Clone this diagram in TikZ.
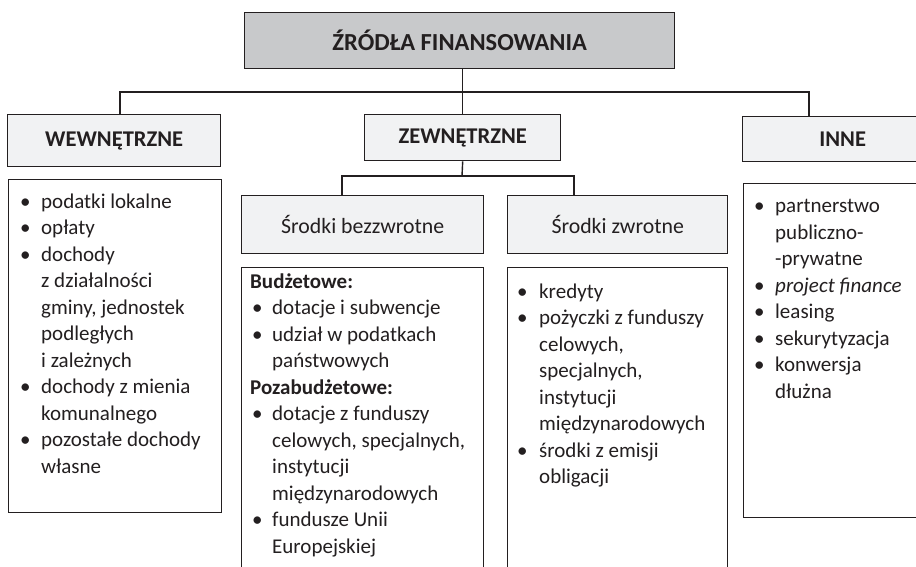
\documentclass[tikz,border=0pt]{standalone}
\usepackage{fontspec}
\setmainfont{Carlito}
\definecolor{ink}{HTML}{231F20}
\definecolor{darkfill}{HTML}{C8C9CB}
\definecolor{lightfill}{HTML}{F1F2F3}
\newlength\indw
\setlength\indw{22pt}
\newcommand\bl[2][1pt]{\makebox[\indw][l]{\hspace*{#1}\textbullet}#2}
\newcommand\cn[1]{\hspace*{\indw}#1}
\tikzset{
  box/.style={draw=ink, line width=1.4pt, inner sep=0pt, anchor=north west},
  hdr/.style={box, fill=lightfill, text=ink, font=\fontsize{22.5}{26}\selectfont\bfseries},
  subhdr/.style={box, fill=lightfill, text=ink, font=\fontsize{21.8}{25}\selectfont},
  listbox/.style={box, fill=white},
  listtext/.style={anchor=north west, inner sep=0pt, align=left, text=ink, font=\fontsize{21}{26.5}\selectfont},
  conn/.style={draw=ink, line width=1.4pt}
}
\begin{document}
\begin{tikzpicture}[x=1pt, y=-1pt]
\useasboundingbox (0,0) rectangle (916,566);
\clip (0,0) rectangle (916,566);
\fill[white] (0,0) rectangle (916,566);
% header boxes
\node[hdr, fill=darkfill, minimum width=430pt, minimum height=56pt, font=\fontsize{24.5}{28}\selectfont\bfseries] (root) at (244,12) {ŹRÓDŁA FINANSOWANIA};
\node[hdr, minimum width=213pt, minimum height=52pt] (wewn) at (7,114) {WEWNĘTRZNE};
\node[hdr, minimum width=196pt, minimum height=46pt] (zewn) at (364,114) {ZEWNĘTRZNE};
\node[hdr, minimum width=200pt, minimum height=45pt, text width=174pt, align=center, text depth=0pt] (inne) at (742,116) {INNE\hspace*{0pt}};
\node[subhdr, minimum width=242pt, minimum height=58pt] (bezz) at (241,195) {Środki bezzwrotne};
\node[subhdr, minimum width=220pt, minimum height=58pt] (zwr) at (507,195) {Środki zwrotne};
% content boxes
\node[listbox, minimum width=213pt, minimum height=333pt] (wewnc) at (8,179) {};
\node[listbox, minimum width=242pt, minimum height=340pt] (budz) at (241,267) {};
\node[listbox, minimum width=220pt, minimum height=340pt] (zwrc) at (507,267) {};
\node[listbox, minimum width=200pt, minimum height=334pt] (innec) at (743,183) {};
% connectors
\coordinate (bus) at (462,92);
\coordinate (sbus) at (462,176);
\coordinate (wtop) at ([xshift=113pt]wewn.north west);
\coordinate (itop) at ([xshift=67pt]inne.north west);
\coordinate (btop) at ([xshift=101pt]bezz.north west);
\coordinate (ztop) at ([xshift=67pt]zwr.north west);
\draw[conn] (root.south -| zewn.north) -- (zewn.north);
\draw[conn] (wtop) -- (wtop |- bus) -- (itop |- bus) -- (itop);
\draw[conn] (zewn.south) -- (sbus);
\draw[conn] (btop) -- (btop |- sbus) -- (ztop |- sbus) -- (ztop);
% lists
\node[listtext] (wewnt) at (19,189.5) {\strut\bl{podatki lokalne}\\ \bl{opłaty}\\ \bl{dochody}\\ \cn{z działalności}\\ \cn{gminy, jednostek}\\ \cn{podległych}\\ \cn{i zależnych}\\ \bl{dochody z mienia}\\ \cn{komunalnego}\\ \bl{pozostałe dochody}\\ \cn{własne}};
\node[listtext] (budzt) at (250,269.5) {\strut\textbf{Budżetowe:}\\ \bl[2pt]{dotacje i subwencje}\\ \bl[2pt]{udział w podatkach}\\ \cn{państwowych}\\ \textbf{Pozabudżetowe:}\\ \bl[2pt]{dotacje z funduszy}\\ \cn{celowych, specjalnych,}\\ \cn{instytucji}\\ \cn{międzynarodowych}\\ \bl[2pt]{fundusze Unii}\\ \cn{Europejskiej}};
\node[listtext] (zwrt) at (517,279.5) {\strut\bl[0pt]{kredyty}\\ \bl[0pt]{pożyczki z funduszy}\\ \cn{celowych,}\\ \cn{specjalnych,}\\ \cn{instytucji}\\ \cn{międzynarodowych}\\ \bl[0pt]{środki z emisji}\\ \cn{obligacji}};
\node[listtext] (innet) at (753,194) {\strut\bl{partnerstwo}\\ \cn{publiczno-}\\ \cn{-prywatne}\\ \bl{\textit{project finance}}\\ \bl{leasing}\\ \bl{sekurytyzacja}\\ \bl{konwersja}\\ \cn{dłużna}};
\end{tikzpicture}
\end{document}
